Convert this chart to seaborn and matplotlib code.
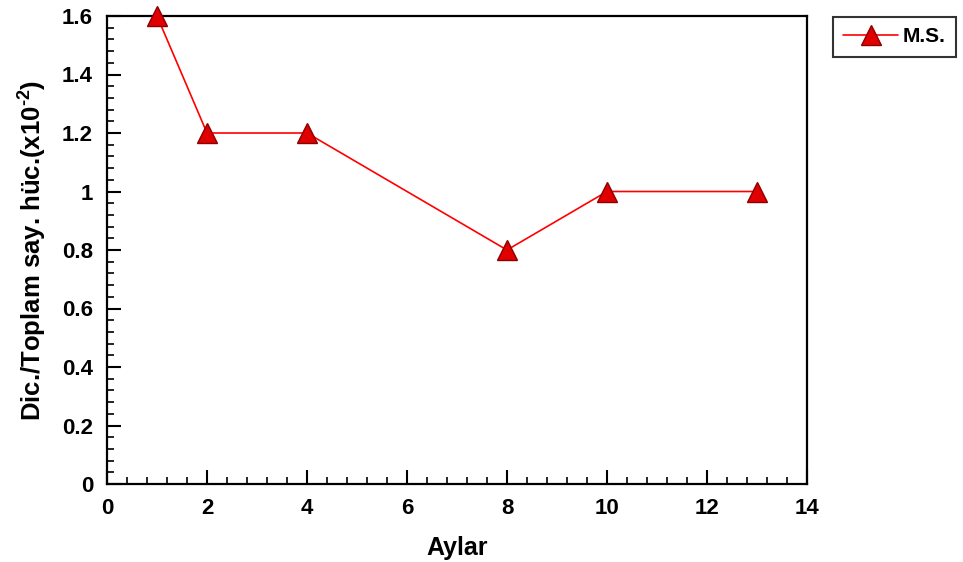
import matplotlib
matplotlib.use("Agg")
import matplotlib.pyplot as plt
import seaborn as sns
import pandas as pd
from matplotlib.ticker import MultipleLocator

months = [1, 2, 4, 8, 10, 13]
values = [1.6, 1.2, 1.2, 0.8, 1.0, 1.0]
series_name = "M.S."
xticks = [0, 2, 4, 6, 8, 10, 12, 14]
xtick_labels = ["0", "2", "4", "6", "8", "10", "12", "14"]
yticks = [0, 0.2, 0.4, 0.6, 0.8, 1.0, 1.2, 1.4, 1.6]
ytick_labels = ["0", "0.2", "0.4", "0.6", "0.8", "1", "1.2", "1.4", "1.6"]

sns.set_style("white")
plt.rcParams['font.family'] = ['Liberation Sans', 'DejaVu Sans']
plt.rcParams['font.weight'] = 'bold'
plt.rcParams['text.color'] = 'black'
plt.rcParams['axes.labelcolor'] = 'black'
plt.rcParams['xtick.color'] = 'black'
plt.rcParams['ytick.color'] = 'black'
plt.rcParams['mathtext.fontset'] = 'custom'
plt.rcParams['mathtext.rm'] = 'Liberation Sans:bold'
plt.rcParams['mathtext.bf'] = 'Liberation Sans:bold'

df = pd.DataFrame({"Aylar": months, "val": values, "s": series_name})

fig = plt.figure(figsize=(9.63, 5.62), dpi=100)
ax = fig.add_axes([107/963, 1-484/562, 700/963, 468/562])

sns.lineplot(data=df, x="Aylar", y="val", hue="s", palette=["#ff0000"],
             marker="^", markersize=14, markerfacecolor="#e00000",
             markeredgecolor="#8b0000", markeredgewidth=1.0, linewidth=1.2,
             ax=ax, clip_on=False, zorder=5)

ax.set_xlim(0, 14)
ax.set_ylim(0, 1.6)
ax.xaxis.set_minor_locator(MultipleLocator(0.4))
ax.yaxis.set_minor_locator(MultipleLocator(0.04))
ax.set_xticks(xticks)
ax.set_xticklabels(xtick_labels)
ax.set_yticks(yticks)
ax.set_yticklabels(ytick_labels)
ax.tick_params(which="major", direction="in", length=10, width=1.5,
               labelsize=16, pad=10, top=False, right=False,
               bottom=True, left=True)
ax.tick_params(which="minor", direction="in", length=5, width=1.2,
               top=False, right=False, bottom=True, left=True)
for lbl in ax.get_xticklabels() + ax.get_yticklabels():
    lbl.set_fontweight("bold")
for s in ax.spines.values():
    s.set_linewidth(1.6)
    s.set_color("black")

ax.set_xlabel("Aylar", fontsize=18, fontweight="bold", labelpad=12)
ax.set_ylabel("Dic./Toplam say. hüc.(x10$^{\\text{-2}}$)", fontsize=18.5,
              fontweight="bold", labelpad=10)

leg = ax.legend(loc="upper left", bbox_to_anchor=(833/963, 1-17/562),
                bbox_transform=fig.transFigure, frameon=True, fancybox=False,
                borderaxespad=0,
                prop={"weight": "bold", "size": 15}, handlelength=2.6,
                borderpad=0.5, handletextpad=0.25)
leg.get_frame().set_edgecolor("black")
leg.get_frame().set_linewidth(1.5)

fig.savefig("out.png", dpi=100)
